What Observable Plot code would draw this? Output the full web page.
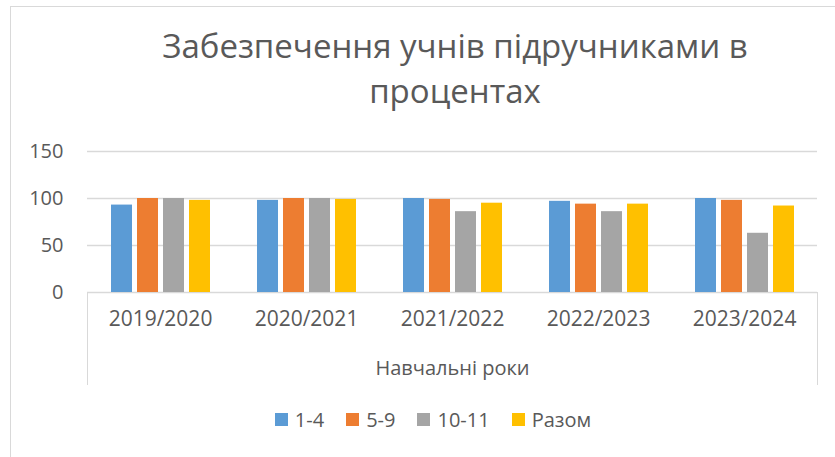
<!DOCTYPE html>
<html>
<head>
<meta charset="utf-8">
<script src="https://cdn.jsdelivr.net/npm/d3@7"></script>
<script src="https://cdn.jsdelivr.net/npm/@observablehq/plot@0.6"></script>
<style>
  html, body { margin: 0; padding: 0; background: #fff; }
  body { width: 835px; height: 457px; position: relative; overflow: hidden; font-family: "Open Sans", sans-serif; color: #595959; }
  #frame { position: absolute; left: 10px; top: 6px; width: 900px; height: 600px; border-left: 1px solid #d9d9d9; border-top: 1px solid #d9d9d9; }
  #title { position: absolute; left: 60px; width: 790px; top: 23px; text-align: center; font-size: 33px; font-weight: 400; line-height: 45px; color: #595959; }
  #chart { position: absolute; left: 0; top: 0; }
  #xbox { position: absolute; left: 87px; top: 292px; width: 729px; height: 93px; border-left: 1px solid #d9d9d9; border-right: 1px solid #d9d9d9; }
  #xtitle { position: absolute; left: 87px; width: 731px; top: 354px; text-align: center; font-size: 20px; }
  #legend { position: absolute; top: 406px; left: 0; width: 866px; display: flex; justify-content: center; gap: 22px; font-size: 20px; }
  #legend span.item { display: flex; align-items: center; gap: 7px; }
  #legend span.sw { width: 13px; height: 13px; display: inline-block; }
</style>
</head>
<body>
<div id="frame"></div>
<div id="title">Забезпечення учнів підручниками в<br>процентах</div>
<div id="xbox"></div>
<div id="xtitle">Навчальні роки</div>
<div id="chart"></div>
<div id="legend"></div>
<script>
const years = ["2019/2020", "2020/2021", "2021/2022", "2022/2023", "2023/2024"];
const seriesNames = ["1-4", "5-9", "10-11", "Разом"];
const s1_4 = [93, 98, 100, 97, 100];
const s5_9 = [100, 100, 99, 94, 98];
const s10_11 = [100, 100, 86, 86, 63];
const sTotal = [98, 99, 95, 94, 92];
const colors = ["#5B9BD5", "#ED7D31", "#A5A5A5", "#FFC000"];
const yTicks = [0, 50, 100, 150];

const seriesValues = [s1_4, s5_9, s10_11, sTotal];
const data = [];
years.forEach((year, i) => {
  seriesNames.forEach((s, j) => data.push({year, series: s, value: seriesValues[j][i]}));
});

const chart = Plot.plot({
  width: 835,
  height: 395,
  marginLeft: 87,
  marginRight: 18,
  marginTop: 151,
  marginBottom: 103,
  style: {fontFamily: "Open Sans", fontSize: "20px", color: "#595959", background: "transparent"},
  fx: {domain: years, padding: 0, label: null},
  x: {domain: seriesNames, paddingInner: 0.2, paddingOuter: 0.845, axis: null},
  y: {domain: [0, 150], axis: null},
  color: {domain: seriesNames, range: colors},
  marks: [
    Plot.gridY(yTicks, {stroke: "#d9d9d9", strokeOpacity: 1, strokeWidth: 1.3}),
    Plot.barY(data, {fx: "year", x: "series", y: "value", fill: "series"}),
    Plot.axisY(yTicks, {tickSize: 0, tickPadding: 24, fontSize: 20, label: null}),
    Plot.axisFx({anchor: "bottom", tickSize: 0, tickPadding: 19, fontSize: 21, label: null})
  ]
});
document.getElementById("chart").appendChild(chart);

const legend = document.getElementById("legend");
seriesNames.forEach((s, j) => {
  const item = document.createElement("span");
  item.className = "item";
  const sw = document.createElement("span");
  sw.className = "sw";
  sw.style.background = colors[j];
  const t = document.createElement("span");
  t.textContent = s;
  item.appendChild(sw);
  item.appendChild(t);
  legend.appendChild(item);
});
</script>
</body>
</html>
